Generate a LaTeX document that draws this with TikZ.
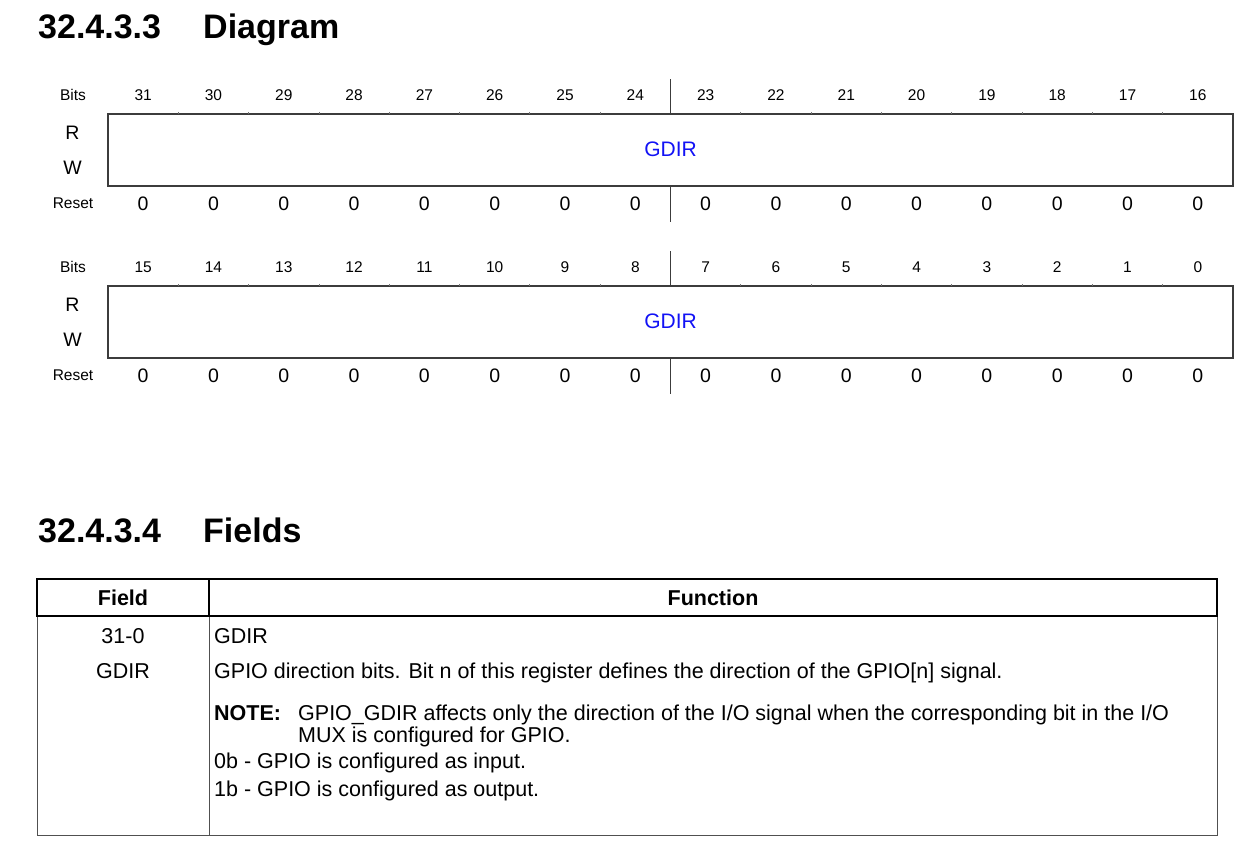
\documentclass[tikz,border=0pt]{standalone}
\usepackage{fontspec}
\setmainfont{Liberation Sans}
\definecolor{fieldblue}{RGB}{18,18,245}
\definecolor{regline}{RGB}{60,60,60}
\definecolor{tabline}{RGB}{80,80,80}
\begin{document}
\begin{tikzpicture}[x=1pt,y=-1pt,
  lbl/.style={anchor=base,inner sep=0pt,font=\fontsize{15.5}{18}\selectfont},
  big/.style={anchor=base,inner sep=0pt,font=\fontsize{19.5}{22}\selectfont},
  fieldname/.style={anchor=base,inner sep=0pt,text=fieldblue,font=\fontsize{21}{24}\selectfont},
  heading/.style={anchor=base west,inner sep=0pt,font=\bfseries\fontsize{34}{40}\selectfont},
  cell/.style={anchor=base west,inner sep=0pt,font=\fontsize{21.5}{24}\selectfont},
  fcell/.style={anchor=base,inner sep=0pt,font=\fontsize{21.5}{24}\selectfont},
  headcell/.style={anchor=base,inner sep=0pt,font=\bfseries\fontsize{21.5}{24}\selectfont},
  boxline/.style={draw=regline,line width=1.2pt},
  tickline/.style={draw=regline!70,line width=0.8pt},
  divider/.style={draw=regline,line width=1pt},
  thickrule/.style={draw=black,line width=2pt},
  thinrule/.style={draw=tabline,line width=1pt}]
\useasboundingbox (0,0) rectangle (1236,846);

% section headings
\node[heading] (numA) at (38,38) {32.4.3.3};
\node[heading] (ttlA) at (203,38) {Diagram};
\node[heading] (numB) at (38,542) {32.4.3.4};
\node[heading] (ttlB) at (203,542) {Fields};

% two 16-bit register rows: upper half (31..16) and lower half (15..0)
\foreach \r/\off/\hi in {A/0/31,B/172/15}{
  \begin{scope}[shift={(0,\off)}]
    \node[lbl] (bits\r) at (73,100.5) {Bits};
    \node[big] (rd\r) at (72.5,139) {R};
    \node[big] (wr\r) at (72.5,174) {W};
    \node[lbl] (rst\r) at (73,208.5) {Reset};
    \draw[boxline] (108,114) rectangle (1233,186);
    \foreach \i in {1,...,15}
      \draw[tickline] ({108+\i*70.3125},114) -- ++(0,-2.5);
    \foreach \i in {0,...,15}{
      \pgfmathtruncatemacro\bitno{\hi-\i}
      \node[lbl] (bit\r\i) at ({108+(\i+0.5)*70.3125},100.5) {\bitno};
      \node[big] (val\r\i) at ({108+(\i+0.5)*70.3125},210) {0};
    }
    \draw[divider] (670.5,79) -- (670.5,114) (670.5,186) -- (670.5,222);
    \node[fieldname] (gdir\r) at (670.5,156) {GDIR};
  \end{scope}
}

% field table frame
\draw[thinrule] (37,616) -- (37,835) -- (1217,835) -- (1217,616);
\draw[thinrule] (209,616) -- (209,835);
\draw[thickrule] (37,579) rectangle (1217,616);
\draw[thickrule] (209,579) -- (209,616);

% table header
\node[headcell] (hfield) at (123,605) {Field};
\node[headcell] (hfunc) at (713,605) {Function};

% field column
\node[fcell] (fbits) at (123,643.5) {31-0};
\node[fcell] (fname) at (123,678) {GDIR};

% function column
\node[cell] (c1) at (214,643.5) {GDIR};
\node[cell] (c2) at (214,678) {GPIO direction bits. Bit n of this register defines the direction of the GPIO[n] signal.};
\node[cell] (c3) at (214,720) {\textbf{NOTE:}};
\node[cell] (c3a) at (298,720) {GPIO\_GDIR affects only the direction of the I/O signal when the corresponding bit in the I/O};
\node[cell] (c3b) at (298,742) {MUX is configured for GPIO.};
\node[cell] (c4) at (214,768) {0b - GPIO is configured as input.};
\node[cell] (c5) at (214,796) {1b - GPIO is configured as output.};
\end{tikzpicture}
\end{document}
